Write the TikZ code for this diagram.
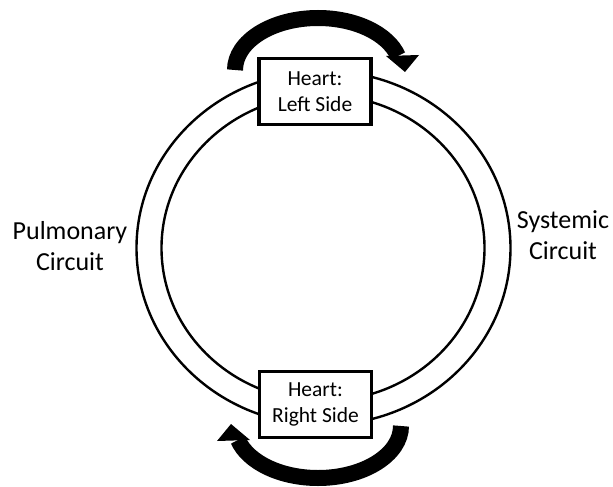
\documentclass[tikz,border=0pt]{standalone}
\usepackage{fontspec}
\setmainfont{Carlito}
\begin{document}
\begin{tikzpicture}[x=1pt,y=-1pt,
  ring/.style={draw=black,line width=2.4pt},
  heartbox/.style={draw=black,fill=white,line width=3.2pt,inner sep=0pt,
    minimum width=112pt,minimum height=66pt,align=center,
    font=\fontsize{21.5}{26}\selectfont},
  sidelabel/.style={align=center,inner sep=0pt,font=\fontsize{26}{31}\selectfont},
  bigarc/.style={draw=black,line width=16pt,line cap=butt},
  arrowhead/.style={fill=black}]
\useasboundingbox (0,0) rectangle (613,487);
% circulation rings
\draw[ring] (323.5,248) ellipse[x radius=187, y radius=177];
\draw[ring] (323,248) ellipse[x radius=161.5, y radius=153];
% heart boxes
\node[heartbox] (left) at (315,91.5) {Heart:\\Left Side};
\node[heartbox] (right) at (315.5,404.5) {Heart:\\Right Side};
% circuit labels
\node[sidelabel] (pul) at (70,246) {Pulmonary\\Circuit};
\node[sidelabel] (sys) at (563,235) {Systemic\\Circuit};
% top arrow
\coordinate (ttail) at (235,70);
\draw[bigarc] (ttail) arc[start angle=180, end angle=344.4, x radius=83, y radius=52];
\coordinate (th1) at (386,56);
\coordinate (th2) at (419,55);
\coordinate (ttip) at (405,72);
\fill[arrowhead] (th1) -- (th2) -- (ttip) -- cycle;
% bottom arrow
\coordinate (btail) at (401,426);
\draw[bigarc] (btail) arc[start angle=0, end angle=164.4, x radius=83, y radius=52];
\coordinate (bh1) at (250,440);
\coordinate (bh2) at (217,441);
\coordinate (btip) at (231,424);
\fill[arrowhead] (bh1) -- (bh2) -- (btip) -- cycle;
\end{tikzpicture}
\end{document}
